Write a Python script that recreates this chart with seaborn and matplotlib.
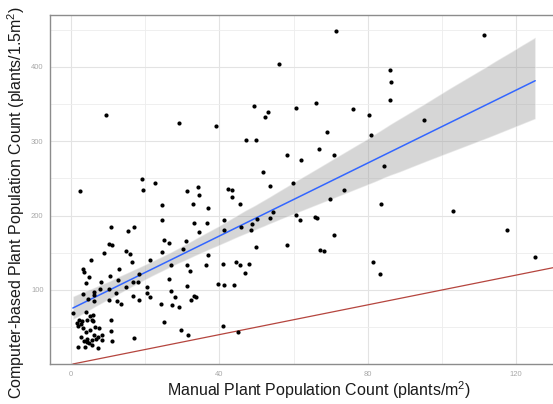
import numpy as np
import pandas as pd
import seaborn as sns
import matplotlib.pyplot as plt
from matplotlib.ticker import MultipleLocator

# Manual count (plants/m2)
manual_count = [
    9.4, 19.2, 29.2, 39.2, 47.2, 49.8, 49.4, 52.4, 53.2, 56.1,
    58.3, 51.7, 60.6, 71.5, 66.0, 76.0, 80.4, 86.1, 86.3, 86.0,
    68.9, 80.9, 62.1, 66.8, 71.0, 84.4, 111.3, 95.0, 73.5, 69.8,
    83.5, 61.7, 60.6, 65.7, 66.2, 71.0, 67.0, 68.2, 81.3, 83.2,
    59.8, 102.9, 117.6, 125.1, 42.3, 43.3, 43.4, 53.7, 45.6, 41.2,
    41.1, 45.7, 48.9, 48.4, 50.2, 54.5, 53.6, 49.8, 58.1, 41.0,
    44.5, 45.6, 48.0, 46.8, 41.1, 44.0, 40.9, 45.0, 19.3, 22.6,
    31.3, 34.2, 34.5, 24.6, 32.8, 37.0, 24.6, 33.2, 36.6, 34.4,
    25.1, 26.5, 30.9, 30.1, 24.6, 37.0, 21.3, 31.3, 27.0, 36.3,
    32.1, 26.4, 20.6, 20.4, 21.3, 31.3, 26.9, 28.0, 33.2, 33.6,
    32.4, 39.7, 24.2, 27.3, 29.2, 25.1, 29.6, 31.5, 2.3, 10.8,
    15.4, 17.0, 10.3, 11.0, 9.0, 14.7, 15.9, 5.3, 16.4, 3.3,
    3.5, 10.5, 13.0, 18.2, 4.9, 4.0, 8.1, 12.7, 16.8, 18.0,
    10.3, 14.8, 3.3, 6.1, 6.3, 7.9, 12.1, 16.6, 4.5, 6.1,
    10.3, 12.5, 18.2, 13.5, 0.5, 4.0, 5.1, 5.8, 4.2, 5.6,
    6.0, 2.1, 3.0, 1.5, 2.7, 2.0, 3.2, 10.8, 6.5, 7.5,
    5.1, 4.0, 8.4, 7.3, 6.2, 10.8, 2.7, 4.3, 5.7, 6.7,
    8.4, 3.6, 4.4, 11.1, 4.9, 17.1, 1.8, 3.8, 5.6, 7.4,
]

# Computer-based count (plants/1.5m2)
computer_count = [
    335, 249, 325, 320, 302, 301, 347, 332, 339, 403,
    281, 259, 344, 448, 351, 343, 335, 396, 380, 355,
    312, 308, 275, 290, 281, 267, 442, 329, 235, 222,
    216, 194, 201, 198, 197, 174, 154, 153, 138, 122,
    244, 206, 180, 144, 236, 235, 225, 240, 215, 194,
    180, 185, 188, 181, 196, 205, 197, 158, 161, 135,
    138, 134, 135, 123, 106, 106, 51, 43, 235, 244,
    233, 238, 228, 214, 215, 210, 194, 190, 190, 178,
    167, 163, 166, 155, 151, 147, 140, 134, 133, 134,
    125, 115, 104, 96, 91, 105, 98, 91, 92, 90,
    86, 108, 81, 80, 77, 57, 46, 40, 233, 185,
    179, 184, 162, 161, 150, 152, 148, 140, 138, 128,
    124, 119, 128, 122, 117, 109, 111, 113, 111, 111,
    101, 104, 95, 97, 93, 101, 96, 92, 88, 85,
    86, 85, 86, 81, 69, 70, 65, 66, 60, 60,
    58, 59, 58, 55, 54, 52, 49, 60, 50, 49,
    46, 44, 39, 37, 40, 45, 37, 34, 33, 34,
    33, 31, 30, 31, 29, 35, 23, 24, 26, 22,
]

x_ticks = [0, 40, 80, 120]
y_ticks = [100, 200, 300, 400]

df = pd.DataFrame({'manual': manual_count, 'computer': computer_count})

sns.set_style('white')
plt.rcParams['font.family'] = ['Liberation Sans', 'DejaVu Sans']
plt.rcParams['mathtext.fontset'] = 'custom'
plt.rcParams['mathtext.rm'] = 'Liberation Sans'
plt.rcParams['mathtext.it'] = 'Liberation Sans:italic'

fig = plt.figure(figsize=(5.53, 4.04), dpi=100)
ax = fig.add_axes([50 / 553, 40 / 404, 503 / 553, 349 / 404])

# 1:1 reference line
ax.axline((0, 0), slope=1, color='#B5453E', lw=0.9, zorder=2)

# regression line with grey confidence band
sns.regplot(data=df, x='manual', y='computer', scatter=False, ci=95, seed=0,
            color='#3366FF', line_kws={'lw': 1.1, 'zorder': 4}, ax=ax)
for coll in ax.collections:
    coll.set_facecolor('#999999')
    coll.set_alpha(0.4)
    coll.set_zorder(3)

sns.scatterplot(data=df, x='manual', y='computer', color='black', s=9,
                linewidth=0, ax=ax, zorder=5)

ax.set_xlim(-5.66, 129.9)
ax.set_ylim(0.5, 469.5)
ax.set_xticks(x_ticks)
ax.set_yticks(y_ticks)
ax.xaxis.set_minor_locator(MultipleLocator(20))
ax.yaxis.set_minor_locator(MultipleLocator(50))

ax.grid(which='major', color='#E3E3E3', lw=0.8)
ax.grid(which='minor', color='#EDEDED', lw=0.6)
ax.set_axisbelow(True)

ax.tick_params(which='major', direction='out', length=2.2, width=0.6,
               color='#888888', labelsize=5.5, labelcolor='#A8A8A8', pad=2.5)
ax.tick_params(which='minor', length=0)

for side in ['left', 'top', 'bottom']:
    ax.spines[side].set_color('#8C8C8C')
    ax.spines[side].set_linewidth(1.0)
ax.spines['right'].set_visible(False)

ax.set_xlabel('Manual Plant Population Count (plants/m$^2$)',
              fontsize=11.5, color='#1A1A1A')
ax.set_ylabel('Computer-based Plant Population Count (plants/1.5m$^2$)',
              fontsize=11.5, color='#1A1A1A')
ax.xaxis.set_label_coords(0.535, -0.045)
ax.yaxis.set_label_coords(-0.046, 0.464)

plt.savefig('out.png', dpi=100)
